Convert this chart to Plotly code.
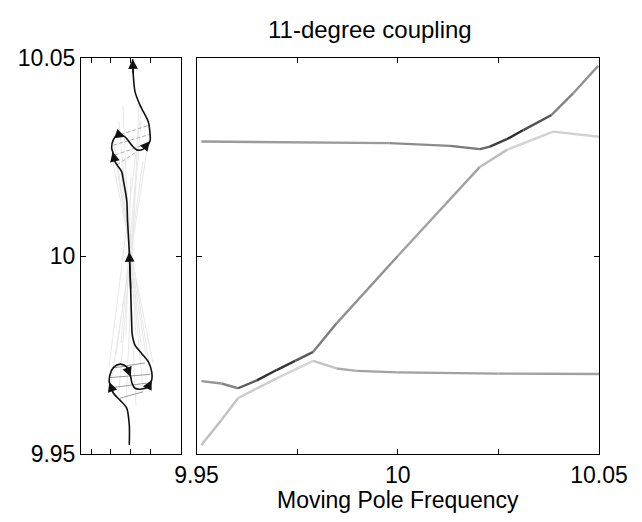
import plotly.graph_objects as go

# ---------------- data ----------------
# Right panel: three eigenvalue branches vs moving pole frequency
b1_x = [9.9512, 9.9562, 9.9603, 9.9699, 9.9790, 9.9848, 9.9898, 10.000, 10.025, 10.050]
b1_y = [9.9523, 9.9586, 9.9641, 9.9691, 9.9735, 9.9716, 9.9710, 9.9706, 9.9703, 9.9702]
b1_g = [190, 190, 200, 210, 215, 175, 165, 160, 160, 160]

b2_x = [9.9512, 9.9562, 9.9603, 9.9650, 9.9699, 9.9745, 9.9790, 9.9848, 10.000, 10.0204, 10.0271, 10.0386, 10.050]
b2_y = [9.9684, 9.9678, 9.9666, 9.9686, 9.9712, 9.9735, 9.9758, 9.9830, 10.0000, 10.0225, 10.0268, 10.0314, 10.0301]
b2_g = [150, 150, 120, 60, 40, 70, 110, 140, 150, 175, 205, 215, 200]

b3_x = [9.9512, 9.9980, 10.0130, 10.0204, 10.0229, 10.0271, 10.0312, 10.0382, 10.0436, 10.0498]
b3_y = [10.0289, 10.0285, 10.0278, 10.0270, 10.0276, 10.0295, 10.0318, 10.0356, 10.0411, 10.0480]
b3_g = [160, 150, 130, 110, 90, 40, 50, 110, 140, 150]

# Left panel: pole trajectory (arbitrary horizontal units)
path_x = [0.483, 0.483, 0.457, 0.390, 0.323, 0.283, 0.290, 0.323, 0.390, 0.457, 0.497,
          0.510, 0.540, 0.607, 0.673, 0.707, 0.707, 0.673, 0.607, 0.540, 0.513, 0.507,
          0.497, 0.483, 0.465, 0.457, 0.423, 0.407, 0.340, 0.317, 0.307, 0.323, 0.373,
          0.440, 0.507, 0.557, 0.623, 0.690, 0.690, 0.673, 0.590, 0.540, 0.523, 0.517]
path_y = [9.9523, 9.9573, 9.9616, 9.9636, 9.9654, 9.9682, 9.9700, 9.9718, 9.9727, 9.9720, 9.9695,
          9.9679, 9.9666, 9.9664, 9.9670, 9.9687, 9.9708, 9.9733, 9.9754, 9.9775, 9.9800, 9.9826,
          9.9914, 10.0010, 10.0091, 10.0141, 10.0192, 10.0213, 10.0238, 10.0263, 10.0272, 10.0293, 10.0307,
          10.0301, 10.0280, 10.0268, 10.0270, 10.0290, 10.0310, 10.0339, 10.0381, 10.0415, 10.0457, 10.0497]
arrow_idx = [5, 10, 15, 23, 29, 33, 37, 43]

lo_x0 = [0.290, 0.320, 0.290, 0.390]
lo_y0 = [9.9693, 9.9717, 9.9667, 9.9641]
lo_x1 = [0.690, 0.640, 0.657, 0.620]
lo_y1 = [9.9701, 9.9730, 9.9679, 9.9657]

hi_x0 = [0.340, 0.323, 0.340, 0.357]
hi_y0 = [10.0302, 10.0280, 10.0255, 10.0230]
hi_x1 = [0.690, 0.690, 0.673, 0.557]
hi_y1 = [10.0331, 10.0307, 10.0284, 10.0263]

fan_x0 = [0.30, 0.35, 0.40, 0.45, 0.55, 0.60, 0.65, 0.70, 0.38, 0.62, 0.45, 0.55, 0.28, 0.72]
fan_y0 = [9.968, 9.975, 9.978, 9.980, 9.980, 9.978, 9.975, 9.970, 9.966, 9.966, 9.962, 9.962, 9.972, 9.973]
fan_x1 = [0.68, 0.62, 0.55, 0.50, 0.45, 0.40, 0.35, 0.32, 0.60, 0.38, 0.58, 0.42, 0.62, 0.30]
fan_y1 = [10.030, 10.024, 10.021, 10.020, 10.020, 10.021, 10.024, 10.030, 10.034, 10.034, 10.038, 10.038, 10.040, 10.026]

y_ticks = [9.95, 10.0, 10.05]
y_labels = ["9.95", "10", "10.05"]
x_ticks = [9.95, 9.975, 10.0, 10.025, 10.05]
x_labels = ["9.95", "", "10", "", "10.05"]
left_x_ticks = [0.1, 0.3, 0.5, 0.7]

# ---------------- figure ----------------
fig = go.Figure()
FONT = "Liberation Sans, Arial, Helvetica, sans-serif"

for a, b, c, d in zip(fan_x0, fan_y0, fan_x1, fan_y1):
    fig.add_trace(go.Scatter(x=[a, c], y=[b, d], mode="lines",
                             line=dict(color="#e8e8e8", width=1),
                             xaxis="x", yaxis="y", hoverinfo="skip", showlegend=False))
for a, b, c, d in zip(lo_x0, lo_y0, lo_x1, lo_y1):
    fig.add_trace(go.Scatter(x=[a, c], y=[b, d], mode="lines",
                             line=dict(color="#9a9a9a", width=1),
                             xaxis="x", yaxis="y", hoverinfo="skip", showlegend=False))
for a, b, c, d in zip(hi_x0, hi_y0, hi_x1, hi_y1):
    fig.add_trace(go.Scatter(x=[a, c], y=[b, d], mode="lines",
                             line=dict(color="#b0b0b0", width=1, dash="4px,2px"),
                             xaxis="x", yaxis="y", hoverinfo="skip", showlegend=False))
fig.add_trace(go.Scatter(x=path_x, y=path_y, mode="lines",
                         line=dict(color="#111111", width=1.6, shape="spline", smoothing=0.8),
                         xaxis="x", yaxis="y", hoverinfo="skip", showlegend=False))

annotations = []
for i in arrow_idx:
    annotations.append(dict(x=path_x[i], y=path_y[i], ax=path_x[i - 1], ay=path_y[i - 1],
                            xref="x", yref="y", axref="x", ayref="y", text="",
                            showarrow=True, arrowhead=2, arrowsize=1.3, arrowwidth=1.5,
                            arrowcolor="#111111", standoff=0, startstandoff=0))

for bx, by, bg in [(b1_x, b1_y, b1_g), (b2_x, b2_y, b2_g), (b3_x, b3_y, b3_g)]:
    for k in range(len(bx) - 1):
        g = int(round((bg[k] + bg[k + 1]) / 2))
        fig.add_trace(go.Scatter(x=[bx[k], bx[k + 1]], y=[by[k], by[k + 1]], mode="lines",
                                 line=dict(color=f"rgb({g},{g},{g})", width=2.4),
                                 xaxis="x2", yaxis="y2", hoverinfo="skip", showlegend=False))

axis_common = dict(showline=True, mirror="allticks", linecolor="black", linewidth=1,
                   ticks="inside", ticklen=5, tickcolor="black", showgrid=False,
                   zeroline=False, tickfont=dict(family=FONT, size=23, color="black"))

annotations.append(dict(text="11-degree coupling", x=0.558, y=1.072, xref="paper", yref="paper",
                        showarrow=False, xanchor="center", yanchor="middle",
                        font=dict(family=FONT, size=24, color="black")))
annotations.append(dict(text="Moving Pole Frequency", x=0.612, y=-0.116, xref="paper", yref="paper",
                        showarrow=False, xanchor="center", yanchor="middle",
                        font=dict(family=FONT, size=23, color="black")))

fig.update_layout(
    width=634, height=514,
    margin=dict(l=73, r=43, t=50, b=68, autoexpand=False),
    paper_bgcolor="white", plot_bgcolor="white",
    xaxis=dict(domain=[0, 0.193], range=[0, 1], tickvals=left_x_ticks,
               showticklabels=False, anchor="y", **axis_common),
    yaxis=dict(domain=[0, 1], range=[9.95, 10.05], tickvals=y_ticks, ticktext=y_labels,
               anchor="x", **axis_common),
    xaxis2=dict(domain=[0.223, 1], range=[9.95, 10.05], tickvals=x_ticks, ticktext=x_labels,
                anchor="y2", **axis_common),
    yaxis2=dict(domain=[0, 1], range=[9.95, 10.05], tickvals=y_ticks, showticklabels=False,
                anchor="x2", **axis_common),
    annotations=annotations,
)

fig.write_html("out.html")
